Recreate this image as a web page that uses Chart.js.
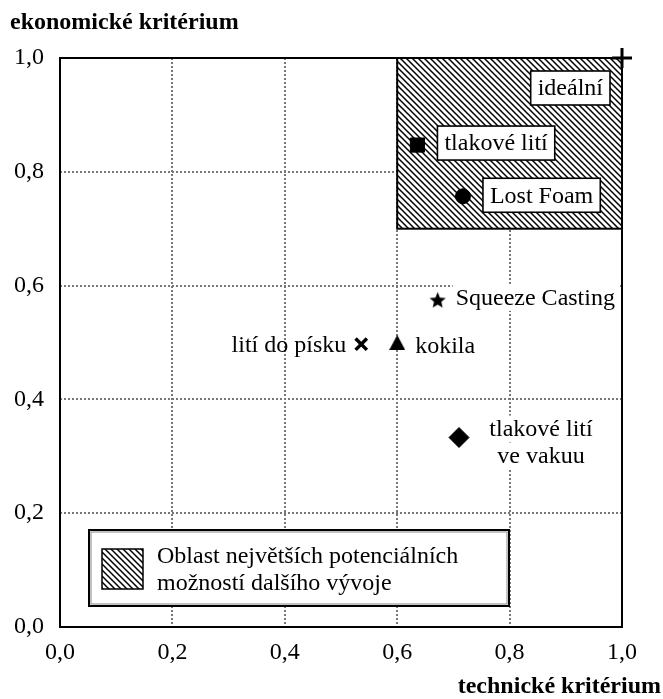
<!DOCTYPE html>
<html><head><meta charset="utf-8">
<script src="https://cdn.jsdelivr.net/npm/chart.js@4"></script>
<style>html,body{margin:0;padding:0;background:#fff}canvas{display:block}</style>
</head><body>
<canvas id="c" width="663" height="699"></canvas>
<script>
// ---- data ----
const methods = ['ideální', 'tlakové lití', 'Lost Foam', 'Squeeze Casting', 'lití do písku', 'kokila', 'tlakové lití\nve vakuu'];
const technical = [1.0, 0.636, 0.717, 0.672, 0.536, 0.6, 0.71];
const economic = [1.0, 0.847, 0.757, 0.575, 0.497, 0.5, 0.333];
const regionTech = [0.6, 1.0];
const regionEcon = [0.7, 1.0];
const tickValues = [0, 0.2, 0.4, 0.6, 0.8, 1.0];
const legendLines = ['Oblast největších potenciálních', 'možností dalšího vývoje'];
const yTitle = 'ekonomické kritérium';
const xTitle = 'technické kritérium';

// ---- styles ----
const SERIF = '"Liberation Serif", "Times New Roman", serif';
function makeStar(size) {
  const c = document.createElement('canvas'); c.width = size; c.height = size;
  const g = c.getContext('2d'); const cx = size / 2, cy = size / 2 + 0.8, R = size / 2, r = R * 0.45;
  g.fillStyle = '#000'; g.beginPath();
  for (let i = 0; i < 10; i++) {
    const a = -Math.PI / 2 + i * Math.PI / 5; const rr = i % 2 ? r : R;
    g.lineTo(cx + rr * Math.cos(a), cy + rr * Math.sin(a));
  }
  g.closePath(); g.fill(); return c;
}
function makeTriangle(w, h) {
  const c = document.createElement('canvas'); c.width = w; c.height = h;
  const g = c.getContext('2d'); g.fillStyle = '#000'; g.beginPath();
  g.moveTo(w / 2, 0); g.lineTo(w, h); g.lineTo(0, h); g.closePath(); g.fill(); return c;
}
const markerStyles = ['cross', 'rect', 'circle', makeStar(17), 'crossRot', makeTriangle(16, 15), 'rectRot'];
const markerRadius = [10, 10, 7.5, 8, 8, 8, 10];
const markerBorder = [3, 1, 1, 0, 3.5, 0, 1];
// label placement relative to the marker (pixels)
const labelLayout = [
  {box: true, align: 'right', dx: -12, dy: 30},
  {box: true, align: 'left', dx: 20, dy: -2},
  {box: true, align: 'left', dx: 20, dy: -1},
  {box: false, bg: true, align: 'left', dx: 18, dy: -2},
  {box: false, bg: false, align: 'right', dx: -15, dy: 0},
  {box: false, bg: false, align: 'left', dx: 18, dy: 3},
  {box: false, bg: true, align: 'center', dx: 82, dy: -9, lh: 27}
];

function makeHatch(ctx) {
  const s = 6; const c = document.createElement('canvas'); c.width = s; c.height = s;
  const g = c.getContext('2d');
  g.fillStyle = '#fff'; g.fillRect(0, 0, s, s);
  g.strokeStyle = '#000'; g.lineWidth = 1.5; g.beginPath();
  g.moveTo(-1, -1); g.lineTo(s + 1, s + 1);
  g.moveTo(-1, s - 1); g.lineTo(1, s + 1);
  g.moveTo(s - 1, -1); g.lineTo(s + 1, 1);
  g.stroke();
  return ctx.createPattern(c, 'repeat');
}

const fmt = v => (Math.round(v * 10) / 10).toFixed(1).replace('.', ',');

const decor = {
  id: 'decor',
  beforeDatasetsDraw(chart) {
    const {ctx, chartArea: a, scales: {x, y}} = chart;
    const hatch = makeHatch(ctx);
    ctx.save();
    // hatched region
    const rx0 = x.getPixelForValue(regionTech[0]), rx1 = x.getPixelForValue(regionTech[1]);
    const ry0 = y.getPixelForValue(regionEcon[1]), ry1 = y.getPixelForValue(regionEcon[0]);
    ctx.fillStyle = hatch; ctx.fillRect(rx0, ry0, rx1 - rx0, ry1 - ry0);
    ctx.strokeStyle = '#000'; ctx.lineWidth = 2; ctx.setLineDash([]);
    ctx.strokeRect(rx0, ry0, rx1 - rx0, ry1 - ry0);
    // frame
    ctx.strokeRect(a.left, a.top, a.right - a.left, a.bottom - a.top);
    // legend box
    const lx = a.left + 29, ly = a.bottom - 97, lw = 420, lhgt = 76;
    ctx.fillStyle = '#fff'; ctx.fillRect(lx, ly, lw, lhgt);
    ctx.strokeStyle = '#000'; ctx.lineWidth = 2; ctx.strokeRect(lx, ly, lw, lhgt);
    ctx.strokeStyle = '#999'; ctx.lineWidth = 1.2; ctx.strokeRect(lx + 2, ly + 2, lw - 4, lhgt - 4);
    ctx.fillStyle = hatch; ctx.fillRect(lx + 13, ly + 19, 41, 40);
    ctx.strokeStyle = '#000'; ctx.lineWidth = 1.5; ctx.strokeRect(lx + 13, ly + 19, 41, 40);
    ctx.fillStyle = '#000'; ctx.font = '24px ' + SERIF; ctx.textAlign = 'left'; ctx.textBaseline = 'middle';
    legendLines.forEach((t, i) => ctx.fillText(t, lx + 68, ly + 27 + i * 27));
    // point labels
    ctx.font = '24px ' + SERIF;
    methods.forEach((name, i) => {
      const L = labelLayout[i];
      const px = x.getPixelForValue(technical[i]), py = y.getPixelForValue(economic[i]);
      const lines = name.split('\n');
      const lh = L.lh || 27;
      const w = Math.max(...lines.map(t => ctx.measureText(t).width));
      if (L.box) {
        const bw = w + 14, bh = 34;
        const bx = L.align === 'right' ? px + L.dx - bw : px + L.dx;
        const by = py + L.dy - bh / 2;
        ctx.fillStyle = '#fff'; ctx.fillRect(bx, by, bw, bh);
        ctx.strokeStyle = '#000'; ctx.lineWidth = 1.6; ctx.strokeRect(bx, by, bw, bh);
        ctx.fillStyle = '#000'; ctx.textAlign = 'center'; ctx.textBaseline = 'middle';
        ctx.fillText(name, bx + bw / 2, py + L.dy + 1);
      } else {
        lines.forEach((t, k) => {
          const tw = ctx.measureText(t).width;
          const cx = px + L.dx;
          const tx = L.align === 'left' ? cx : L.align === 'right' ? cx - tw : cx - tw / 2;
          const ty = py + L.dy + k * lh;
          if (L.bg) { ctx.fillStyle = '#fff'; ctx.fillRect(tx - 3, ty - 13, tw + 6, 26); }
          ctx.fillStyle = '#000'; ctx.textAlign = 'left'; ctx.textBaseline = 'middle';
          ctx.fillText(t, tx, ty + 1);
        });
      }
    });
    ctx.restore();
  },
  afterDraw(chart) {
    const {ctx} = chart;
    ctx.save();
    ctx.fillStyle = '#000'; ctx.font = 'bold 24px ' + SERIF; ctx.textBaseline = 'middle';
    ctx.textAlign = 'left'; ctx.fillText(yTitle, 10, 23);
    ctx.textAlign = 'right'; ctx.fillText(xTitle, 661, 687);
    ctx.restore();
  }
};

const axisCommon = {
  type: 'linear', min: 0, max: 1,
  grid: {color: '#777', lineWidth: 2, drawTicks: false, borderDash: [2, 2]},
  border: {display: false, dash: [2, 2]},
  ticks: {
    stepSize: 0.2, color: '#000', font: {family: SERIF, size: 24},
    callback: v => fmt(v)
  }
};

new Chart(document.getElementById('c'), {
  type: 'scatter',
  data: {
    datasets: [{
      data: technical.map((t, i) => ({x: t, y: economic[i]})),
      pointStyle: markerStyles,
      pointRadius: markerRadius,
      pointHoverRadius: markerRadius,
      borderWidth: markerBorder,
      backgroundColor: '#000',
      borderColor: '#000',
      clip: false
    }]
  },
  options: {
    responsive: false, animation: false,
    layout: {padding: {left: 0, top: 58, right: 41, bottom: 0}},
    plugins: {legend: {display: false}, tooltip: {enabled: false}},
    scales: {
      x: Object.assign({}, axisCommon, {
        position: 'bottom',
        ticks: Object.assign({}, axisCommon.ticks, {padding: 11, maxRotation: 0}),
        afterFit: s => { s.height = 72; },
        afterBuildTicks: s => { s.ticks = tickValues.map(v => ({value: v})); }
      }),
      y: Object.assign({}, axisCommon, {
        position: 'left',
        ticks: Object.assign({}, axisCommon.ticks, {padding: 16}),
        afterFit: s => { s.width = 60; },
        afterBuildTicks: s => { s.ticks = tickValues.map(v => ({value: v})); }
      })
    }
  },
  plugins: [decor]
});
</script>
</body></html>
